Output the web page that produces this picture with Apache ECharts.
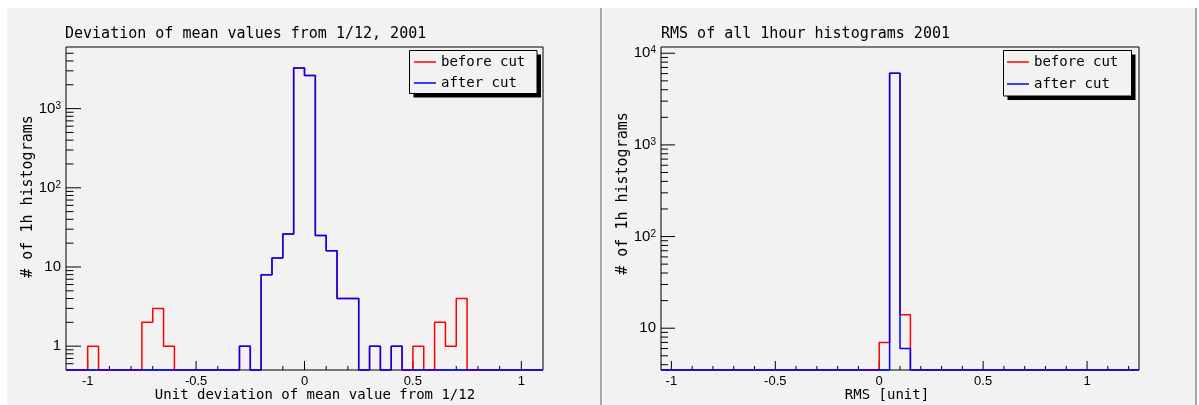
<!DOCTYPE html>
<html>
<head>
<meta charset="utf-8">
<title>Deviation of mean values and RMS, 2001</title>
<script src="https://cdn.jsdelivr.net/npm/echarts@6/dist/echarts.min.js"></script>
<style>
  html, body { margin: 0; padding: 0; background: #ffffff; }
  #chart { width: 1199px; height: 405px; }
</style>
</head>
<body>
<div id="chart"></div>
<script>
// ---- data -------------------------------------------------------------
// Deviation of mean values: 44 bins of width 0.05 starting at -1.1
const devStart = -1.1;
const devBinWidth = 0.05;
const devBefore = [
  0, 0, 1, 0, 0, 0, 0, 2, 3, 1,
  0, 0, 0, 0, 0, 0, 1, 0, 8, 13,
  26, 3250, 2620, 25, 16, 4, 4, 0, 1, 0,
  1, 0, 1, 0, 2, 1, 4, 0, 0, 0,
  0, 0, 0, 0
];
const devAfter = [
  0, 0, 0, 0, 0, 0, 0, 0, 0, 0,
  0, 0, 0, 0, 0, 0, 1, 0, 8, 13,
  26, 3250, 2620, 25, 16, 4, 4, 0, 1, 0,
  1, 0, 0, 0, 0, 0, 0, 0, 0, 0,
  0, 0, 0, 0
];

// RMS of all 1 hour histograms: 46 bins of width 0.05 starting at -1.05
const rmsStart = -1.05;
const rmsBinWidth = 0.05;
const rmsBefore = [
  0, 0, 0, 0, 0, 0, 0, 0, 0, 0,
  0, 0, 0, 0, 0, 0, 0, 0, 0, 0,
  0, 7, 6040, 14, 0, 0, 0, 0, 0, 0,
  0, 0, 0, 0, 0, 0, 0, 0, 0, 0,
  0, 0, 0, 0, 0, 0
];
const rmsAfter = [
  0, 0, 0, 0, 0, 0, 0, 0, 0, 0,
  0, 0, 0, 0, 0, 0, 0, 0, 0, 0,
  0, 0, 6040, 6, 0, 0, 0, 0, 0, 0,
  0, 0, 0, 0, 0, 0, 0, 0, 0, 0,
  0, 0, 0, 0, 0, 0
];

// axis ranges
const devXRange = [-1.1, 1.1];
const devYRange = [0.5, 6000];
const rmsXRange = [-1.05, 1.25];
const rmsYRange = [3.5, 11700];

// labelled x ticks
const devXMajor = [-1, -0.5, 0, 0.5, 1];
const rmsXMajor = [-1, -0.5, 0, 0.5, 1];
const devXMinorSpan = [-1, 1];
const rmsXMinorSpan = [-1, 1.2];

const legendNames = ['before cut', 'after cut'];

// ---- helpers ----------------------------------------------------------
const MONO = 'DejaVu Sans Mono';
const SANS = 'Liberation Sans';

// Bin contents -> step outline; empty bins sit on the bottom of the log frame
function histOutline(start, width, counts, floor) {
  const pts = [];
  for (let i = 0; i < counts.length; i++) {
    const edge = +(start + i * width).toFixed(6);
    pts.push([edge, counts[i] > 0 ? counts[i] : floor]);
  }
  const last = counts[counts.length - 1];
  pts.push([+(start + counts.length * width).toFixed(6), last > 0 ? last : floor]);
  return pts;
}

// tick marks drawn inside the frame: [x, y, kind(0 = x axis, 1 = y axis), length]
function tickData(xMajor, xMinorSpan, xRange, yRange, lens) {
  const out = [];
  const lo = Math.round(xMinorSpan[0] * 10), hi = Math.round(xMinorSpan[1] * 10);
  for (let k = lo; k <= hi; k++) {
    const v = k / 10;
    const major = xMajor.some(m => Math.abs(m - v) < 1e-9);
    out.push([v, yRange[0], 0, major ? lens.xMajor : lens.xMinor]);
  }
  const e0 = Math.floor(Math.log10(yRange[0])), e1 = Math.ceil(Math.log10(yRange[1]));
  for (let e = e0; e <= e1; e++) {
    for (let m = 1; m <= 9; m++) {
      const v = m * Math.pow(10, e);
      if (v <= yRange[0] * 1.0001 || v >= yRange[1]) continue;
      out.push([xRange[0], v, 1, m === 1 ? lens.yMajor : lens.yMinor]);
    }
  }
  return out;
}

function tickSeries(idx, data) {
  return {
    type: 'custom',
    xAxisIndex: idx,
    yAxisIndex: idx,
    coordinateSystem: 'cartesian2d',
    silent: true,
    clip: false,
    z: 1,
    encode: { x: 0, y: 1 },
    data: data,
    renderItem: function (params, api) {
      const p = api.coord([api.value(0), api.value(1)]);
      const kind = api.value(2), len = api.value(3);
      const shape = kind === 0
        ? { x1: p[0], y1: p[1], x2: p[0], y2: p[1] - len }
        : { x1: p[0], y1: p[1], x2: p[0] + len, y2: p[1] };
      return { type: 'line', shape: shape, style: { stroke: '#000', lineWidth: 1 } };
    }
  };
}

function xLabel(v) {
  const h = Math.round(v * 2);
  if (Math.abs(v * 2 - h) > 1e-6) return '';
  return String(h / 2);
}

function yLabel(v) {
  const l = Math.log10(v);
  const e = Math.round(l);
  if (Math.abs(l - e) > 1e-6) return '';
  if (e === 0) return '{b|1}';
  if (e === 1) return '{b|10}';
  return '{b|10}{s|' + e + '}';
}

function xAxisFor(idx, range, step, name, namePad) {
  return {
    type: 'value',
    gridIndex: idx,
    min: range[0],
    max: range[1],
    interval: step,
    axisLine: { show: false },
    axisTick: { show: false },
    splitLine: { show: false },
    axisLabel: {
      formatter: xLabel,
      fontFamily: SANS,
      fontSize: 13,
      color: '#000',
      margin: 5
    },
    name: name,
    nameLocation: 'middle',
    nameGap: 18,
    nameMoveOverlap: false,
    nameTextStyle: {
      fontFamily: MONO,
      fontSize: 14,
      lineHeight: 14,
      color: '#000',
      padding: namePad
    }
  };
}

function yAxisFor(idx, range, namePad) {
  return {
    type: 'log',
    logBase: 10,
    gridIndex: idx,
    min: range[0],
    max: range[1],
    axisLine: { show: false },
    axisTick: { show: false },
    splitLine: { show: false },
    minorTick: { show: false },
    axisLabel: {
      formatter: yLabel,
      margin: 5,
      color: '#000',
      rich: {
        b: { fontFamily: SANS, fontSize: 15, lineHeight: 15, color: '#000', verticalAlign: 'bottom' },
        s: { fontFamily: SANS, fontSize: 10, lineHeight: 10, color: '#000', verticalAlign: 'top' }
      }
    },
    name: '# of 1h histograms',
    nameLocation: 'middle',
    nameGap: 30,
    nameMoveOverlap: false,
    nameTextStyle: {
      fontFamily: MONO,
      fontSize: 15,
      lineHeight: 15,
      color: '#000',
      padding: namePad
    }
  };
}

function histSeries(name, idx, color, z, data) {
  return {
    name: name,
    type: 'line',
    xAxisIndex: idx,
    yAxisIndex: idx,
    step: 'end',
    symbol: 'none',
    clip: false,
    z: z,
    data: data,
    lineStyle: { color: color, width: 1.5 },
    itemStyle: { color: color }
  };
}

// legend entries; the framed box with its drop shadow is drawn underneath
function legendFor(left, top, gap, textGap, padding) {
  return {
    data: legendNames,
    orient: 'vertical',
    left: left,
    top: top,
    icon: 'rect',
    itemWidth: 22,
    itemHeight: 1.5,
    itemGap: gap,
    itemTextGap: textGap,
    padding: padding,
    selectedMode: false,
    z: 10,
    textStyle: { fontFamily: MONO, fontSize: 14, lineHeight: 14, color: '#000' }
  };
}

function legendBox(x, y, w, h) {
  return [
    { type: 'rect', z: 5, silent: true, shape: { x: x + 4, y: y + 4, width: w, height: h }, style: { fill: '#000' } },
    { type: 'rect', z: 6, silent: true, shape: { x: x, y: y, width: w, height: h }, style: { fill: '#f2f2f2', stroke: '#000', lineWidth: 1 } }
  ];
}

const titleStyle = { fontFamily: MONO, fontSize: 15, lineHeight: 15, fontWeight: 'normal', color: '#000' };
const tickLensDev = { xMajor: 9, xMinor: 4, yMajor: 15, yMinor: 7.5 };
const tickLensRms = { xMajor: 9, xMinor: 4, yMajor: 14, yMinor: 7 };

// ---- chart ------------------------------------------------------------
const chart = echarts.init(document.getElementById('chart'), null, { renderer: 'canvas' });

chart.setOption({
  animation: false,
  backgroundColor: '#ffffff',
  graphic: [
    { type: 'rect', z: -10, silent: true, shape: { x: 7, y: 8, width: 593, height: 397 }, style: { fill: '#f2f2f2' } },
    { type: 'rect', z: -10, silent: true, shape: { x: 603, y: 8, width: 592, height: 397 }, style: { fill: '#f2f2f2' } },
    { type: 'rect', z: -10, silent: true, shape: { x: 600, y: 8, width: 2, height: 397 }, style: { fill: '#a8a8a8' } },
    { type: 'rect', z: -10, silent: true, shape: { x: 1195, y: 8, width: 2, height: 397 }, style: { fill: '#a8a8a8' } }
  ].concat(legendBox(409.5, 50.5, 127.5, 43), legendBox(1003.5, 50.5, 128, 45.5)),
  title: [
    { text: 'Deviation of mean values from 1/12, 2001', left: 65, top: 27, padding: 0, textStyle: titleStyle },
    { text: 'RMS of all 1hour histograms 2001', left: 661, top: 27, padding: 0, textStyle: titleStyle }
  ],
  legend: [
    legendFor(409, 51, 7, 5, [4, 12, 4, 5]),
    legendFor(1003, 51, 8, 6, [4, 12, 5, 4])
  ],
  grid: [
    { left: 66, top: 47, width: 477, height: 323, outerBoundsMode: 'none', containLabel: false,
      show: true, borderColor: '#000', borderWidth: 1, backgroundColor: 'transparent' },
    { left: 661, top: 47, width: 478, height: 323, outerBoundsMode: 'none', containLabel: false,
      show: true, borderColor: '#000', borderWidth: 1, backgroundColor: 'transparent' }
  ],
  xAxis: [
    xAxisFor(0, devXRange, 0.1, 'Unit deviation of mean value from 1/12', [0, 0, 0, 21]),
    xAxisFor(1, rmsXRange, 0.05, 'RMS [unit]', [0, 26, 0, 0])
  ],
  yAxis: [
    yAxisFor(0, devYRange, [0, 0, 0, 24]),
    yAxisFor(1, rmsYRange, [0, 0, 0, 30])
  ],
  series: [
    tickSeries(0, tickData(devXMajor, devXMinorSpan, devXRange, devYRange, tickLensDev)),
    tickSeries(1, tickData(rmsXMajor, rmsXMinorSpan, rmsXRange, rmsYRange, tickLensRms)),
    histSeries('before cut', 0, '#ff0000', 3, histOutline(devStart, devBinWidth, devBefore, devYRange[0])),
    histSeries('after cut', 0, '#0000ff', 4, histOutline(devStart, devBinWidth, devAfter, devYRange[0])),
    histSeries('before cut', 1, '#ff0000', 3, histOutline(rmsStart, rmsBinWidth, rmsBefore, rmsYRange[0])),
    histSeries('after cut', 1, '#0000ff', 4, histOutline(rmsStart, rmsBinWidth, rmsAfter, rmsYRange[0]))
  ]
});
</script>
</body>
</html>
